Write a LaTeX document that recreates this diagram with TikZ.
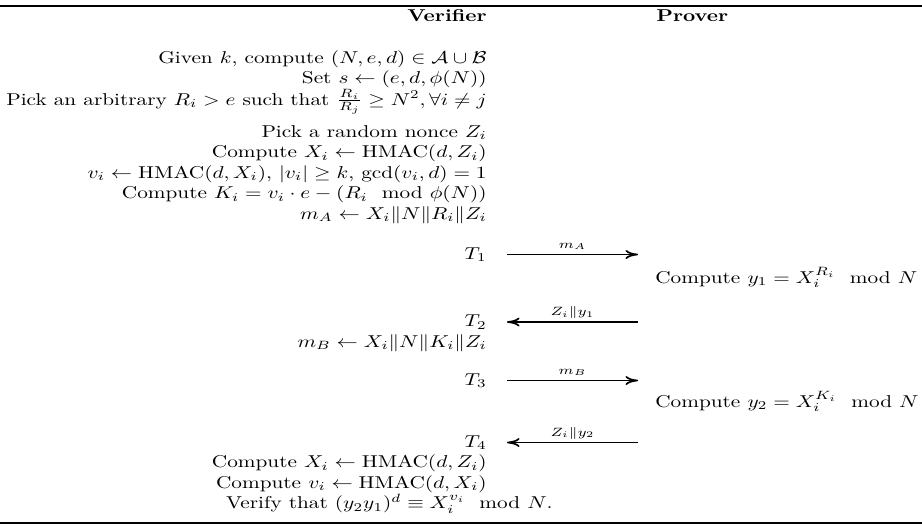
\documentclass[tikz,border=0pt]{standalone}
\usepackage{amsmath,amssymb,graphicx}
\usetikzlibrary{arrows.meta}
\newcommand\bigtxt[1]{\scalebox{1.19}[0.96]{#1}}
\begin{document}
\begin{tikzpicture}[x=0.5596pt,y=-0.5596pt,
  vl/.style={anchor=base east, inner sep=0pt},
  pl/.style={anchor=base west, inner sep=0pt},
  hrule/.style={line width=1.3pt},
  msg/.style={line width=0.95pt, -{Computer Modern Rightarrow[length=7pt,width=5pt]}},
  lbl/.style={anchor=base, inner sep=0pt, yshift=3.6pt, font=\scriptsize}]
\useasboundingbox (0,0) rectangle (922,526);
% rules
\draw[hrule] (0,6) -- (922,6);
\draw[hrule] (0,523) -- (922,523);
% header
\node[vl] (hv) at (487,21) {\bigtxt{\textbf{Verifier}}};
\node[pl] (hp) at (656,21) {\bigtxt{\textbf{Prover}}};
% verifier block
\node[vl] (r1) at (487,63) {\bigtxt{Given $k$, compute $(N,e,d)\in\mathcal{A}\cup\mathcal{B}$}};
\node[vl] (r2) at (487,83) {\bigtxt{Set $s\leftarrow(e,d,\phi(N))$}};
\node[vl] (r3) at (487,105) {\bigtxt{Pick an arbitrary $R_i>e$ such that $\frac{R_i}{R_j}\geq N^2,\forall i\neq j$}};
\node[vl] (r4) at (487,137) {\bigtxt{Pick a random nonce $Z_i$}};
\node[vl] (r5) at (487,157.5) {\bigtxt{Compute $X_i\leftarrow\mathrm{HMAC}(d,Z_i)$}};
\node[vl] (r6) at (487,178) {\bigtxt{$v_i\leftarrow\mathrm{HMAC}(d,X_i)$, $|v_i|\geq k$, $\gcd(v_i,d)=1$}};
\node[vl] (r7) at (487,198.5) {\bigtxt{Compute $K_i=v_i\cdot e-(R_i\mod\phi(N))$}};
\node[vl] (r8) at (487,219) {\bigtxt{$m_A\leftarrow X_i\|N\|R_i\|Z_i$}};
% T1
\node[vl] (t1) at (487,259) {\bigtxt{$T_1$}};
\coordinate (a1l) at (507,254.5);
\coordinate (a1r) at (638,254.5);
\draw[msg] (a1l) -- (a1r) node[midway,lbl] {\bigtxt{$m_A$}};
\node[pl] (p1) at (655,283) {\bigtxt{Compute $y_1=X_i^{R_i}\mod N$}};
% T2
\node[vl] (t2) at (487,326.5) {\bigtxt{$T_2$}};
\coordinate (a2l) at (507,322);
\coordinate (a2r) at (638,322);
\draw[msg] (a2r) -- (a2l) node[midway,lbl] {\bigtxt{$Z_i\|y_1$}};
\node[vl] (r9) at (487,347) {\bigtxt{$m_B\leftarrow X_i\|N\|K_i\|Z_i$}};
% T3
\node[vl] (t3) at (487,385) {\bigtxt{$T_3$}};
\coordinate (a3l) at (507,380.5);
\coordinate (a3r) at (638,380.5);
\draw[msg] (a3l) -- (a3r) node[midway,lbl] {\bigtxt{$m_B$}};
\node[pl] (p2) at (655,407) {\bigtxt{Compute $y_2=X_i^{K_i}\mod N$}};
% T4
\node[vl] (t4) at (487,447) {\bigtxt{$T_4$}};
\coordinate (a4l) at (507,442.5);
\coordinate (a4r) at (638,442.5);
\draw[msg] (a4r) -- (a4l) node[midway,lbl] {\bigtxt{$Z_i\|y_2$}};
\node[vl] (r10) at (487,467.5) {\bigtxt{Compute $X_i\leftarrow\mathrm{HMAC}(d,Z_i)$}};
\node[vl] (r11) at (487,488) {\bigtxt{Compute $v_i\leftarrow\mathrm{HMAC}(d,X_i)$}};
\node[vl] (r12) at (553,508.5) {\bigtxt{Verify that $(y_2y_1)^d\equiv X_i^{v_i}\mod N$.}};
\end{tikzpicture}
\end{document}
